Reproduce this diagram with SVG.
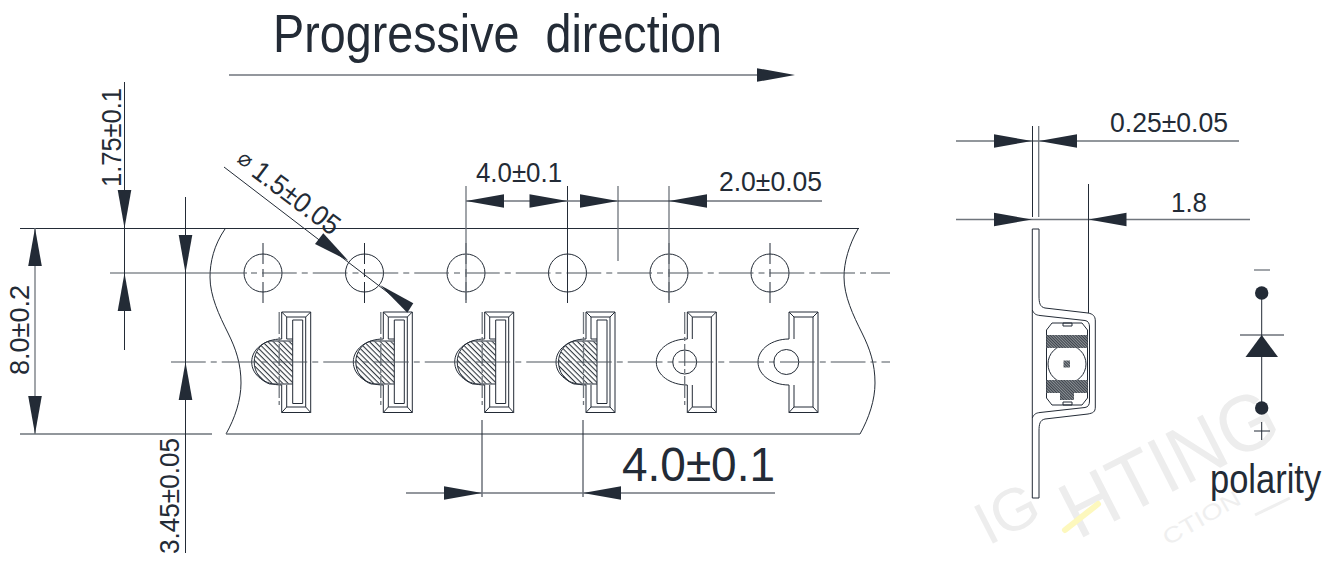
<svg xmlns="http://www.w3.org/2000/svg" width="1340" height="561" viewBox="0 0 1340 561">
<style>
text{font-family:"Liberation Sans",Arial,sans-serif;fill:#232b36}
.l{stroke:#232b36;stroke-width:1;fill:none}
.g{stroke:#6f757c;stroke-width:1.3;fill:none}
.c{stroke:#4d545c;stroke-width:1.2;fill:none}
.a{fill:#232b36;stroke:none}
.h{fill:url(#hatch);stroke:none}
.d{fill:url(#dense);stroke:none}
.t{font-size:27px}
.r{font-size:28px}
.w{font-size:80px;fill:#ededed}
</style>
<defs>
<pattern id="hatch" width="3.8" height="3.8" patternUnits="userSpaceOnUse" patternTransform="rotate(45)"><rect width="3.8" height="3.8" fill="#fff"/><rect width="3.8" height="1.100" fill="#2f363e"/></pattern>
<pattern id="dense" width="2" height="2" patternUnits="userSpaceOnUse" patternTransform="rotate(45)"><rect width="2" height="2" fill="#8d9196"/><rect width="2" height="1" fill="#3b424a"/></pattern>
<path id="ar" class="a" d="M0,0L-38,-6.800V6.800Z"/>
<g id="hole"><circle class="l" r="19"/><path class="l" d="M0,-30V-9M0,-4V4M0,9V30"/></g>
<g id="frame">
<path class="l" d="M0,339V312H29V412.500H0V385"/>
<path class="l" d="M5,339V317H24V407H5V385M0,312L5,317M29,312L24,317M0,412.500L5,407M29,412.500L24,407"/>
</g>
<g id="pocket-hatched">
<path class="h" d="M11,341.500H-12C-21,343 -27.500,352 -27.500,362C-27.500,372 -21,381 -12,383.500H11Z"/>
<path class="l" d="M11,341H-12C-21,343 -27.500,352 -27.500,362C-27.500,372 -21,381 -12,384H11"/>
<path class="l" d="M0,339C-17,339 -30,349 -30,362C-30,375 -17,385 0,385"/>
<use href="#frame"/>
<path class="l" d="M5,339H11V403.500H21V320H11V339"/>
<path class="g" d="M-2.500,312V408" stroke-dasharray="22 3 4 3"/>
</g>
<g id="pocket-plain">
<use href="#frame"/>
<path class="l" d="M0,339C-17,339 -31,349 -31,362C-31,375 -17,385 0,385"/>
</g>
</defs>

<g id="watermark">
<text class="w" style="font-size:60px" transform="translate(988,546) rotate(-27)">IG</text>
<text class="w" transform="translate(1078,540) rotate(-27)" textLength="232" lengthAdjust="spacingAndGlyphs">HTING</text>
<text transform="translate(1168,546) rotate(-30)" font-size="22" style="fill:#efefef" textLength="86" lengthAdjust="spacingAndGlyphs">CTION</text>
<path d="M1255,515L1290,498" stroke="#efefef" stroke-width="3" fill="none"/>
<path d="M1065,530L1098,504" stroke="#fdf8bd" stroke-width="6" stroke-linecap="round" fill="none"/>
</g>

<g id="title"><text x="273" y="52" font-size="54" textLength="449" lengthAdjust="spacingAndGlyphs" xml:space="preserve">Progressive  direction</text></g>

<g id="tape">
<path class="l" d="M225,229C214,245 210,262 210,277C210,296 219,315 228,333C236,349 241,364 241,383C241,400 235,418 226,434"/>
<path class="l" d="M858,229C849,245 844,262 844,277C844,296 853,315 862,333C870,349 875,364 875,383C875,400 869,418 860,434"/>
</g>
<g id="holes">
<use href="#hole" x="263" y="273"/><use href="#hole" x="364.500" y="273"/><use href="#hole" x="466" y="273"/><use href="#hole" x="567.500" y="273"/><use href="#hole" x="669" y="273"/><use href="#hole" x="770" y="273"/>
</g>
<g id="pocket-1"><use href="#pocket-hatched" x="281.700"/></g>
<g id="pocket-2"><use href="#pocket-hatched" x="383.300"/></g>
<g id="pocket-3"><use href="#pocket-hatched" x="484.700"/></g>
<g id="pocket-4"><use href="#pocket-hatched" x="586"/></g>
<g id="pocket-5"><use href="#pocket-plain" x="687.300"/><circle class="l" cx="684.700" cy="362" r="12"/><path class="g" d="M684.700,312V408" stroke-dasharray="22 3 4 3"/></g>
<g id="pocket-6"><use href="#pocket-plain" x="789"/><circle class="l" cx="786.300" cy="362" r="12.500"/></g>

<g id="connectors">
<path class="g" d="M229,75H760"/><use href="#ar" transform="translate(795,75)"/>
<path class="l" d="M20,228.500H859"/><path class="g" d="M20,434H212M226,434H860"/>
<path class="c" d="M110,273H247"/>
<path class="c" d="M247,273H890" stroke-dasharray="34.750 5 6 5" stroke-dashoffset="-15"/>
<path class="c" d="M171,362H890" stroke-dasharray="34.750 5 6 5"/>
<path class="g" d="M35,228V434"/>
<use href="#ar" transform="translate(35,228) rotate(-90)"/><use href="#ar" transform="translate(35,434) rotate(90)"/>
<path class="l" d="M124.500,82V350"/>
<use href="#ar" transform="translate(124.500,228) rotate(90)"/><use href="#ar" transform="translate(124.500,273) rotate(-90)"/>
<path class="l" d="M185.500,197V553"/>
<use href="#ar" transform="translate(185.500,273) rotate(90)"/><use href="#ar" transform="translate(185.500,362) rotate(-90)"/>
<path class="l" d="M224,167L408,308"/>
<path class="a" d="M348.300,260.700L323.300,233.300L315,244Z"/><path class="a" d="M380,285L413.300,303.300L407.300,312.700Z"/>
<path class="g" d="M466,186V300M618,186V261M669,186V300"/><path class="l" d="M567.500,186V300"/>
<path class="g" d="M466,201H618"/><path class="l" d="M618,201H822"/>
<use href="#ar" transform="translate(466,201) rotate(180)"/><use href="#ar" transform="translate(567.500,201)"/><use href="#ar" transform="translate(618,201)"/><use href="#ar" transform="translate(669,201) rotate(180)"/>
<path class="l" d="M482,420V497M583,420V497"/>
<path class="g" d="M406,493H775"/>
<use href="#ar" transform="translate(482,493)"/><use href="#ar" transform="translate(583,493) rotate(180)"/>
<path class="g" d="M956,141H1239M956,219.500H1250"/>
<path class="l" d="M1032.500,126V217"/><path class="g" d="M1038.700,126V217"/><path class="l" d="M1088.500,184V313"/>
<use href="#ar" transform="translate(1032,141)"/><use href="#ar" transform="translate(1039,141) rotate(180)"/>
<use href="#ar" transform="translate(1032,219.500)"/><use href="#ar" transform="translate(1088.500,219.500) rotate(180)"/>
</g>

<g id="labels">
<text class="t" x="476" y="182" textLength="86" lengthAdjust="spacingAndGlyphs">4.0±0.1</text>
<text class="t" x="719" y="191" textLength="103" lengthAdjust="spacingAndGlyphs">2.0±0.05</text>
<text class="r" transform="translate(120.500,187) rotate(-90)" textLength="99" lengthAdjust="spacingAndGlyphs">1.75±0.1</text>
<text class="r" transform="translate(28.500,375) rotate(-90)" textLength="90" lengthAdjust="spacingAndGlyphs">8.0±0.2</text>
<text class="r" transform="translate(179,554) rotate(-90)" textLength="116" lengthAdjust="spacingAndGlyphs">3.45±0.05</text>
<text transform="translate(236,161) rotate(37)" font-size="22" style="font-family:'DejaVu Sans',sans-serif">⌀</text>
<text class="r" transform="translate(250,175) rotate(37)" textLength="102" lengthAdjust="spacingAndGlyphs">1.5±0.05</text>
<text x="622" y="481" font-size="48" textLength="153" lengthAdjust="spacingAndGlyphs">4.0±0.1</text>
<text class="t" x="1110" y="132" textLength="118" lengthAdjust="spacingAndGlyphs">0.25±0.05</text>
<text class="t" x="1171" y="212" textLength="36" lengthAdjust="spacingAndGlyphs">1.8</text>
<text transform="translate(1210,492.500) scale(1,1.200)" font-size="34.500">polarity</text>
</g>

<g id="led">
<path class="l" d="M1032.300,229H1039V296C1039,303 1040,307 1045,308L1088,313C1093,314 1095.300,316 1095.300,321V407C1095.300,412 1093,413 1088,414L1045,419C1040,420 1039,424 1039,431V498H1032.300Z"/>
<path class="l" d="M1032.300,310C1034,314 1036,315 1040,315.500L1085,320.500C1088,321 1089.500,323 1089.500,327V401C1089.500,405 1088,407 1085,407.500L1040,412.500C1036,413 1034,414 1032.300,418"/>
<path class="l" d="M1052,323H1082L1087.500,330V398L1082,405H1052L1046.500,398V330Z"/>
<path class="l" d="M1063,323h9v3h-9zM1063,402h9v3h-9z"/>
<circle cx="1067" cy="364" r="19" fill="#fff" stroke="#232b36"/>
<path class="d" d="M1046.500,335H1087.500V348H1046.500ZM1046.500,380H1087.500V393H1046.500ZM1060,393H1074V400H1060Z"/>
<rect class="d" x="1063.500" y="360.500" width="6.500" height="7"/>
</g>

<g id="polarity">
<path class="g" d="M1254,270H1270"/>
<path class="l" d="M1261.700,293V408M1240,335H1284M1254,431H1270M1261.700,422V440"/>
<circle class="a" cx="1261.700" cy="293" r="6.700"/>
<circle class="a" cx="1261.700" cy="408" r="6.700"/>
<path class="a" d="M1261.700,335L1278,357H1245.500Z"/>
</g>
</svg>
